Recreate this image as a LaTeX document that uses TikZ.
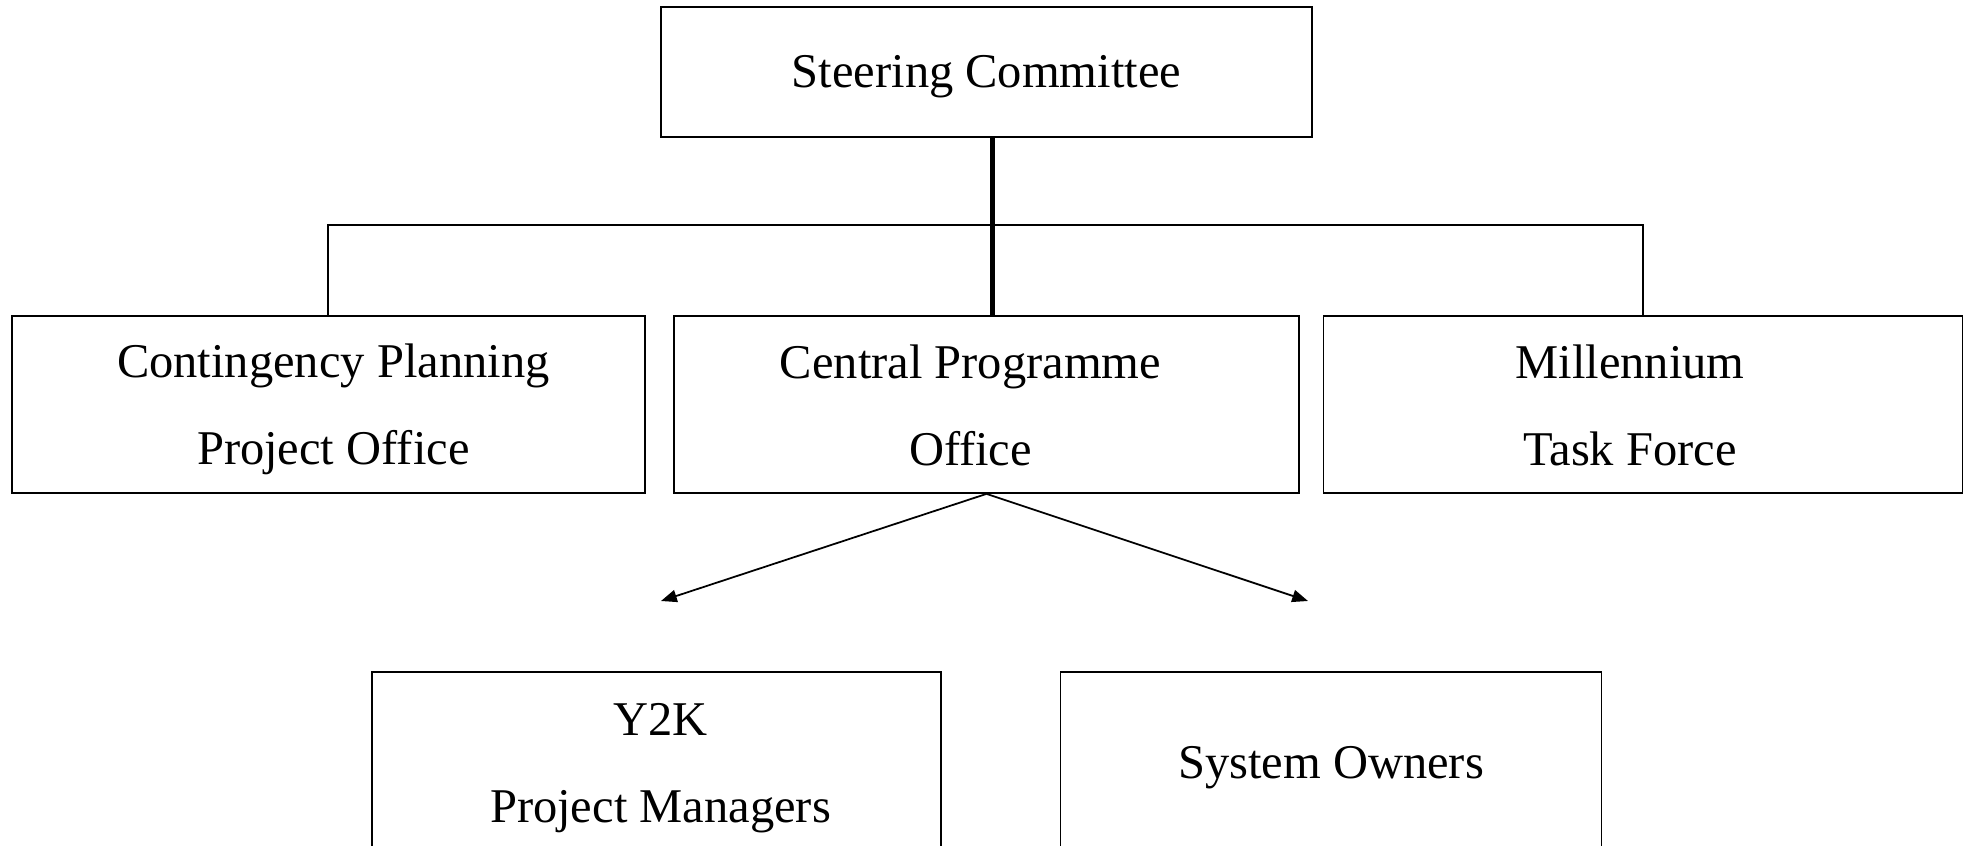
\documentclass[tikz,border=0pt]{standalone}
\usepackage{fontspec}
\setmainfont{Liberation Serif}
\usetikzlibrary{arrows.meta}
\tikzset{
  unit/.style={draw, line width=0.5pt, inner sep=0pt},
  toprow/.style={unit, minimum height=1.77cm},
  lowrow/.style={unit, minimum height=1.82cm},
  tag/.style={align=center, inner sep=0pt, yshift=-0.05cm,
    font=\fontsize{13.8}{24.75}\selectfont},
}
\begin{document}
\begin{tikzpicture}
  \clip (0,0) rectangle (19.68,-8.46);
  \node[unit, minimum width=6.51cm, minimum height=1.30cm,
    label={[tag]center:Steering Committee}] (steer) at (9.865,-0.717) {};
  \node[toprow, minimum width=6.33cm,
    label={[tag, xshift=0.05cm]center:Contingency Planning\\Project Office}] (cpp) at (3.283,-4.045) {};
  \node[toprow, minimum width=6.25cm,
    label={[tag, xshift=-0.16cm, yshift=0.04cm]center:Central Programme\\Office}] (cpo) at (9.865,-4.045) {};
  \node[toprow, minimum width=6.39cm,
    label={[tag, xshift=-0.13cm, yshift=0.04cm]center:Millennium\\Task Force}] (mtf) at (16.43,-4.045) {};
  \node[lowrow, minimum width=5.69cm,
    label={[tag, xshift=0.04cm]center:Y2K\\Project Managers}] (y2k) at (6.565,-7.63) {};
  \node[lowrow, minimum width=5.41cm,
    label={[tag]center:System Owners}] (sys) at (13.31,-7.63) {};
  \coordinate (toy2k) at (6.61,-6.01);
  \coordinate (tosys) at (13.08,-6.01);
  \begin{scope}[line width=0.5pt]
    \draw[line width=1.4pt] ([xshift=0.6mm]steer.south) -- ([xshift=0.6mm]steer.south |- cpo.north);
    \draw (cpp.north) -- ++(0,0.9) -| (mtf.north);
    \draw[-{Triangle[length=4.5pt,width=3.5pt]}] (cpo.south) -- (toy2k);
    \draw[-{Triangle[length=4.5pt,width=3.5pt]}] (cpo.south) -- (tosys);
  \end{scope}
\end{tikzpicture}
\end{document}
